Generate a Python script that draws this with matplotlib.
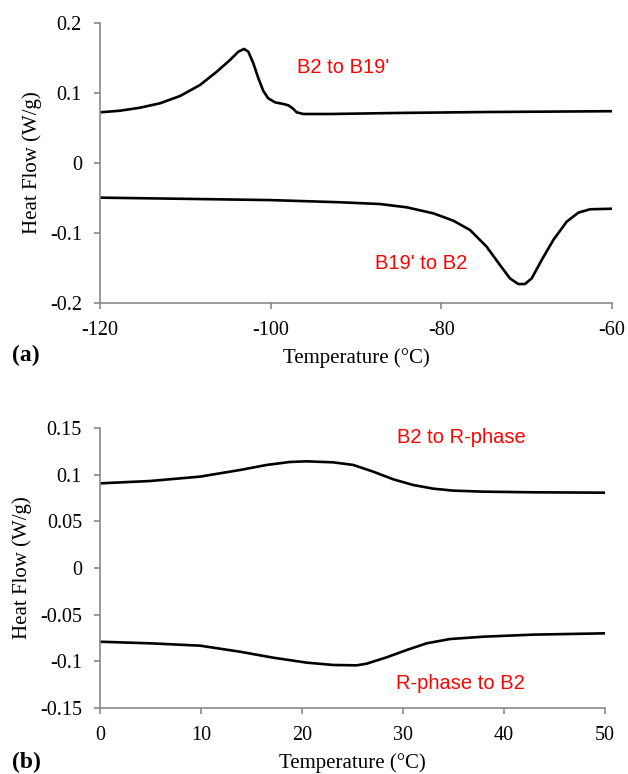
import matplotlib
matplotlib.use("Agg")
import matplotlib.pyplot as plt

# ---- Panel (a) data ----
a_cool_T = [-120, -117.66, -115.31, -112.97, -110.62, -108.28, -106.32, -104.77,
            -103.79, -103.12, -102.62, -102.03, -101.44, -100.86, -100.28,
            -99.49, -98.52, -97.93, -97.42, -96.95, -96.17, -93.05, -85, -75, -60]
a_cool_HF = [0.0724, 0.0747, 0.0790, 0.0853, 0.0957, 0.1114, 0.1304, 0.1471,
             0.159, 0.1629, 0.159, 0.1424, 0.121, 0.1029, 0.0924,
             0.0867, 0.0843, 0.0824, 0.0781, 0.0724, 0.0700, 0.0700, 0.0715,
             0.0728, 0.0740]
a_heat_T = [-120, -110, -100, -96.56, -91.87, -87.19, -84.06, -80.94, -78.59,
            -76.64, -74.69, -73.13, -71.96, -70.98, -70.2, -69.41, -68.24,
            -66.88, -65.31, -63.95, -62.58, -59.85]
a_heat_HF = [-0.0495, -0.0512, -0.0530, -0.0543, -0.0561, -0.0586, -0.0633,
             -0.0719, -0.0824, -0.0957, -0.1196, -0.1457, -0.1648, -0.1729,
             -0.1729, -0.1648, -0.1386, -0.110, -0.0838, -0.071, -0.0661, -0.0653]

# ---- Panel (b) data ----
b_cool_T = [0, 4.95, 9.9, 13.86, 16.5, 18.8, 20.46, 23.1, 25.08, 27.06, 29.04,
            31.02, 33.0, 34.98, 37.95, 42.9, 50]
b_cool_HF = [0.0907, 0.0932, 0.0979, 0.105, 0.1104, 0.1136, 0.1143, 0.1132,
             0.1104, 0.1032, 0.095, 0.0889, 0.085, 0.0829, 0.0818, 0.0811, 0.0807]
b_heat_T = [0, 4.95, 9.9, 13.86, 17.16, 20.46, 23.1, 25.41, 26.4, 28.38, 30.36,
            32.34, 34.65, 37.95, 42.9, 50]
b_heat_HF = [-0.079, -0.0807, -0.0832, -0.0897, -0.0961, -0.1014, -0.1039,
             -0.1043, -0.1025, -0.0957, -0.0879, -0.0807, -0.0761, -0.0736,
             -0.0714, -0.070]

a_xticks = [-120, -100, -80, -60]
a_yticks = [-0.2, -0.1, 0, 0.1, 0.2]
a_yticklabels = ["-0.2", "-0.1", "0", "0.1", "0.2"]
b_xticks = [0, 10, 20, 30, 40, 50]
b_yticks = [-0.15, -0.1, -0.05, 0, 0.05, 0.1, 0.15]
b_yticklabels = ["-0.15", "-0.1", "-0.05", "0", "0.05", "0.1", "0.15"]

SERIF = "Liberation Serif"
SANS = "Liberation Sans"
GRAY = "#8a8a8a"

fig = plt.figure(figsize=(6.28, 7.74), dpi=100)
ax1 = fig.add_axes([100/628, 1-303/774, 512/628, 280/774])
ax2 = fig.add_axes([100/628, 1-708/774, 505/628, 280/774])

def style(ax, xt, yt, ytl, xlim, ylim):
    ax.set_xlim(*xlim)
    ax.set_ylim(*ylim)
    ax.set_xticks(xt)
    ax.set_xticklabels([str(v) for v in xt])
    ax.set_yticks(yt)
    ax.set_yticklabels(ytl)
    for s in ["top", "right"]:
        ax.spines[s].set_visible(False)
    for s in ["left", "bottom"]:
        ax.spines[s].set_color(GRAY)
        ax.spines[s].set_linewidth(1.2)
    ax.tick_params(direction="out", length=4, width=1.2, color=GRAY,
                   labelsize=14.5)
    ax.tick_params(axis="x", pad=9)
    ax.tick_params(axis="y", pad=9)
    for lab in ax.get_xticklabels() + ax.get_yticklabels():
        lab.set_fontfamily(SERIF)
    ax.set_ylabel("Heat Flow (W/g)", fontfamily=SERIF, fontsize=15, labelpad=6)
    ax.set_xlabel("Temperature (°C)", fontfamily=SERIF, fontsize=15, labelpad=6)

ax1.plot(a_cool_T, a_cool_HF, color="black", lw=1.9, solid_joinstyle="round")
ax1.plot(a_heat_T, a_heat_HF, color="black", lw=1.9, solid_joinstyle="round")
style(ax1, a_xticks, a_yticks, a_yticklabels, (-120, -60), (-0.2, 0.2))
ax1.text(-96.9, 0.136, "B2 to B19'", color="#ff0000", fontfamily=SANS,
         fontsize=14.5, va="center", ha="left")
ax1.text(-87.8, -0.143, "B19' to B2", color="#ff0000", fontfamily=SANS,
         fontsize=14.5, va="center", ha="left")

ax2.plot(b_cool_T, b_cool_HF, color="black", lw=1.9, solid_joinstyle="round")
ax2.plot(b_heat_T, b_heat_HF, color="black", lw=1.9, solid_joinstyle="round")
style(ax2, b_xticks, b_yticks, b_yticklabels, (0, 50), (-0.15, 0.15))
ax2.text(29.4, 0.1396, "B2 to R-phase", color="#ff0000", fontfamily=SANS,
         fontsize=14.5, va="center", ha="left")
ax2.text(29.3, -0.1236, "R-phase to B2", color="#ff0000", fontfamily=SANS,
         fontsize=14.5, va="center", ha="left")

fig.text(12/628, 1-355/774, "(a)", fontfamily=SERIF, fontweight="bold",
         fontsize=17, va="center", ha="left")
fig.text(12/628, 1-762/774, "(b)", fontfamily=SERIF, fontweight="bold",
         fontsize=17, va="center", ha="left")

fig.savefig("out.png", dpi=100)
